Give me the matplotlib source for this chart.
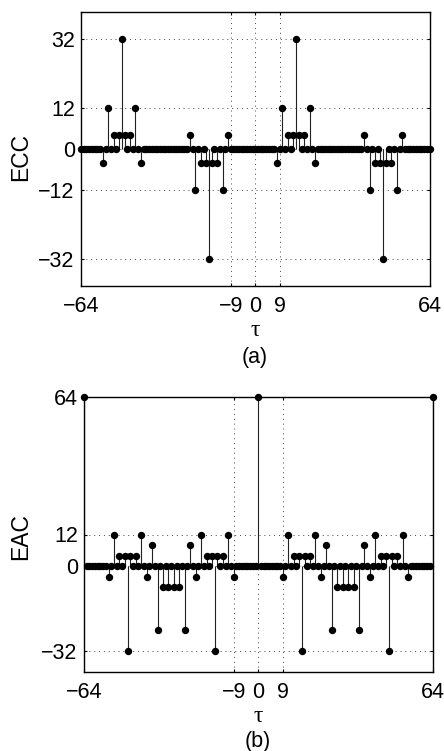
import matplotlib
matplotlib.use('Agg')
import matplotlib.pyplot as plt
import numpy as np

# lag axis
tau = np.arange(-64, 65)

# (a) cross-correlation: nonzero lags and values
ecc_lags = [-56, -54, -52, -50, -49, -48, -46, -44, -42,
            -24, -22, -20, -18, -17, -16, -14, -12, -10,
            8, 10, 12, 14, 15, 16, 18, 20, 22,
            40, 42, 44, 46, 47, 48, 50, 52, 54]
ecc_vals = [-4, 12, 4, 4, 32, 4, 4, 12, -4,
            4, -12, -4, -4, -32, -4, -4, -12, 4,
            -4, 12, 4, 4, 32, 4, 4, 12, -4,
            4, -12, -4, -4, -32, -4, -4, -12, 4]

# (b) auto-correlation: nonzero lags and values
eac_lags = [-64,
            -55, -53, -51, -49, -48, -47, -45, -43, -41, -39, -37, -35, -33,
            -31, -29, -27, -25, -23, -21, -19, -17, -16, -15, -13, -11, -9,
            0,
            9, 11, 13, 15, 16, 17, 19, 21, 23, 25, 27, 29, 31,
            33, 35, 37, 39, 41, 43, 45, 47, 48, 49, 51, 53, 55,
            64]
eac_vals = [64,
            -4, 12, 4, 4, -32, 4, 4, 12, -4, 8, -24, -8, -8,
            -8, -8, -24, 8, -4, 12, 4, 4, -32, 4, 4, 12, -4,
            64,
            -4, 12, 4, 4, -32, 4, 4, 12, -4, 8, -24, -8, -8,
            -8, -8, -24, 8, -4, 12, 4, 4, -32, 4, 4, 12, -4,
            64]

xticks = [-64, -9, 0, 9, 64]
ecc_yticks = [-32, -12, 0, 12, 32]
eac_yticks = [-32, 0, 12, 64]


def full_series(lags, vals):
    y = np.zeros(len(tau))
    for l, v in zip(lags, vals):
        y[l + 64] = v
    return y


plt.rcParams['font.family'] = ['Liberation Sans', 'DejaVu Sans']
plt.rcParams['font.size'] = 15.5

W, H = 444, 751
fig = plt.figure(figsize=(W / 100, H / 100), dpi=100)


def px_axes(l, t, r, b):
    return fig.add_axes([l / W, 1 - b / H, (r - l) / W, (b - t) / H])


def draw_stem(ax, y, ylim, yticks):
    ml, sl, bl = ax.stem(tau, y, linefmt='k-', markerfmt='ko', basefmt=' ')
    plt.setp(sl, linewidth=0.8, color='#222222')
    plt.setp(ml, markersize=4.3, clip_on=False, zorder=4)
    ax.set_xlim(-64, 64)
    ax.set_ylim(*ylim)
    ax.set_xticks(xticks)
    ax.set_yticks(yticks)
    ax.grid(True, linestyle=(0, (1, 4)), color='#444444', linewidth=0.7)
    ax.tick_params(direction='in', length=2.5, width=0.8, top=True, right=True)
    ax.tick_params(axis='x', pad=7.5)
    ax.tick_params(axis='y', pad=4.5)
    for s in ax.spines.values():
        s.set_linewidth(1.0)


ax1 = px_axes(81, 12, 429.5, 286)
draw_stem(ax1, full_series(ecc_lags, ecc_vals), (-40, 40), ecc_yticks)
fig.text(21 / W, 1 - 157 / H, 'ECC', rotation=90, ha='center', va='center',
         fontsize=16.5)
fig.text(255 / W, 1 - 330 / H, 'τ', ha='center', va='center',
         family='Liberation Serif', fontsize=17)
fig.text(255 / W, 1 - 357 / H, '(a)', ha='center', va='center')

ax2 = px_axes(84, 397, 432.5, 672)
draw_stem(ax2, full_series(eac_lags, eac_vals), (-40, 64), eac_yticks)
fig.text(21 / W, 1 - 537 / H, 'EAC', rotation=90, ha='center', va='center',
         fontsize=16.5)
fig.text(258 / W, 1 - 717 / H, 'τ', ha='center', va='center',
         family='Liberation Serif', fontsize=17)
fig.text(258 / W, 1 - 742 / H, '(b)', ha='center', va='center')

fig.savefig('out.png', dpi=100)
